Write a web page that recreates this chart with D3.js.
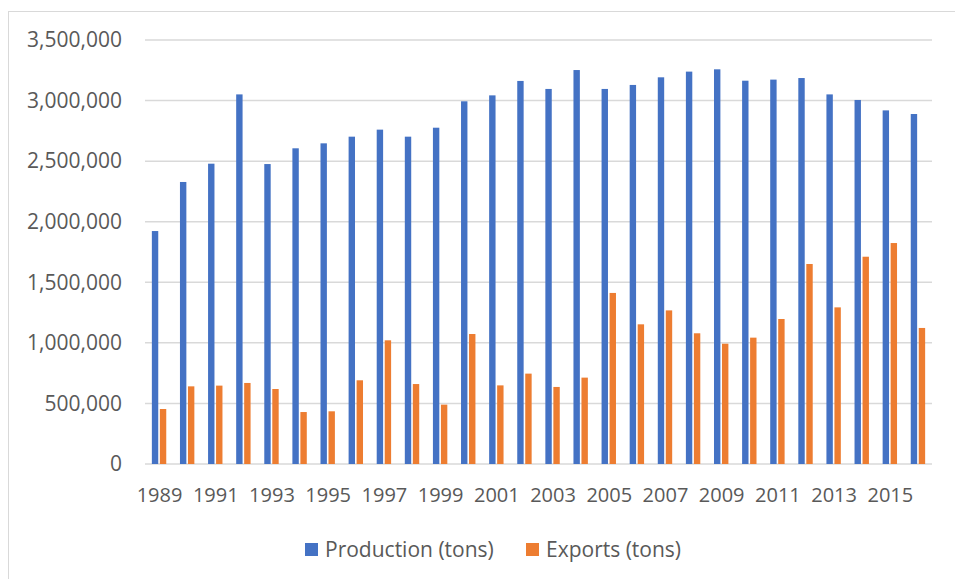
<!DOCTYPE html>
<html>
<head>
<meta charset="utf-8">
<script src="https://cdn.jsdelivr.net/npm/d3@7"></script>
<style>
  html, body { margin: 0; padding: 0; background: #fff; }
  svg { display: block; }
  text { font-family: "Open Sans", sans-serif; fill: #595959; }
</style>
</head>
<body>
<svg id="chart" width="955" height="579"></svg>
<script>
const years = [1989,1990,1991,1992,1993,1994,1995,1996,1997,1998,1999,2000,2001,2002,2003,2004,2005,2006,2007,2008,2009,2010,2011,2012,2013,2014,2015,2016];
const production = [1923000,2328000,2479000,3051000,2476000,2606000,2647000,2702000,2760000,2702000,2776000,2994000,3043000,3162000,3096000,3252000,3096000,3129000,3192000,3239000,3258000,3164000,3173000,3186000,3051000,3005000,2919000,2889000];
const exportsT = [454000,641000,647000,669000,619000,429000,435000,691000,1021000,660000,490000,1073000,649000,746000,636000,713000,1412000,1153000,1268000,1079000,993000,1043000,1197000,1651000,1293000,1711000,1824000,1123000];
const yTicks = [0,500000,1000000,1500000,2000000,2500000,3000000,3500000];
const seriesNames = ["Production (tons)", "Exports (tons)"];
const seriesColors = ["#4472C4", "#ED7D31"];

const svg = d3.select("#chart");
const plotLeft = 145, plotRight = 932, plotTop = 40, plotBottom = 464;

// chart frame
svg.append("rect").attr("x", 8.5).attr("y", 11.5).attr("width", 1000).attr("height", 700)
  .attr("fill", "none").attr("stroke", "#d9d9d9").attr("stroke-width", 1);

const x = d3.scaleBand().domain(years).range([plotLeft, plotRight]).padding(0);
const xi = d3.scaleBand().domain([0, 1]).range([0, 14.4]).paddingInner(0.2);
const y = d3.scaleLinear().domain([0, 3500000]).range([plotBottom, plotTop]);

// gridlines
svg.append("g").selectAll("line").data(yTicks).join("line")
  .attr("x1", plotLeft).attr("x2", plotRight)
  .attr("y1", d => y(d)).attr("y2", d => y(d))
  .attr("stroke", "#d9d9d9").attr("stroke-width", 1.5);

// y labels
const fmt = d3.format(",");
svg.append("g").selectAll("text").data(yTicks).join("text")
  .attr("x", 122).attr("y", d => y(d)).attr("dy", "0.35em")
  .attr("text-anchor", "end").attr("font-size", 21)
  .text(d => fmt(d));

// bars
const offset = x.bandwidth() / 2 - 7.2;
const series = [production, exportsT];
series.forEach((vals, s) => {
  svg.append("g").selectAll("rect").data(years).join("rect")
    .attr("x", (d, i) => x(d) + offset + xi(s))
    .attr("width", xi.bandwidth())
    .attr("y", (d, i) => y(vals[i]))
    .attr("height", (d, i) => y(0) - y(vals[i]))
    .attr("fill", seriesColors[s]);
});

// x labels
svg.append("g").selectAll("text").data(years.filter((d, i) => i % 2 === 0)).join("text")
  .attr("x", d => x(d) + x.bandwidth() / 2 + 0.5)
  .attr("y", 502)
  .attr("text-anchor", "middle").attr("font-size", 20)
  .text(d => d);

// legend
const legendX = [305, 526];
const lg = svg.append("g").selectAll("g").data(seriesNames).join("g")
  .attr("transform", (d, i) => `translate(${legendX[i]},543)`);
lg.append("rect").attr("width", 13).attr("height", 13).attr("fill", (d, i) => seriesColors[i]);
lg.append("text").attr("x", 20).attr("y", 6.5).attr("dy", "0.35em").attr("font-size", 21).text(d => d);
</script>
</body>
</html>
